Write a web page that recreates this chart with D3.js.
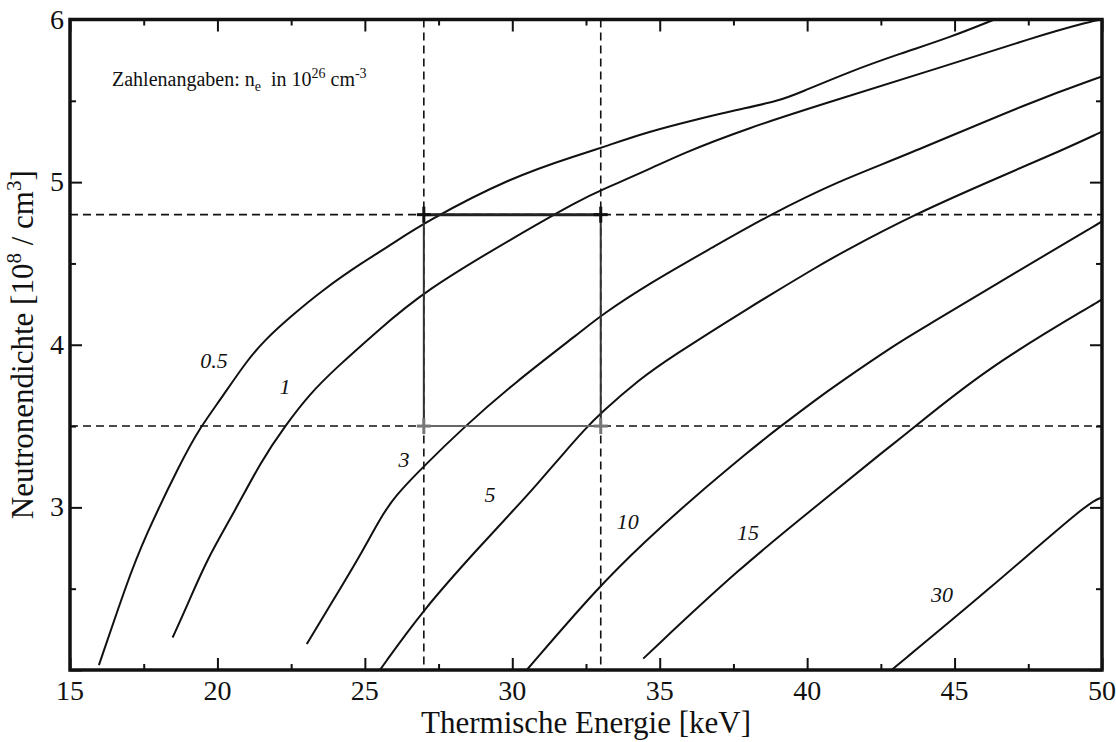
<!DOCTYPE html>
<html>
<head>
<meta charset="utf-8">
<script src="https://cdn.jsdelivr.net/npm/d3@7"></script>
<style>
body { margin: 0; background: #fff; }
svg text { font-family: "Liberation Serif", "Times New Roman", serif; fill: #111; }
</style>
</head>
<body>
<svg id="chart" width="1116" height="742"></svg>
<script>
// axis ticks
var xMajor = [15, 20, 25, 30, 35, 40, 45, 50],
    xMinor = [17.5, 22.5, 27.5, 32.5, 37.5, 42.5, 47.5],
    yMajor = [2, 3, 4, 5, 6],
    yMinor = [2.5, 3.5, 4.5, 5.5],
    yLabels = [3, 4, 5, 6];

// curves, n_e in 10^26 cm^-3 : [keV, 10^8/cm^3]
var curve05 = [[15.98, 2.03], [16.92, 2.53], [17.49, 2.80], [18.79, 3.29], [19.41, 3.49], [20.09, 3.66],
    [20.99, 3.90], [21.61, 4.03], [22.46, 4.17], [23.59, 4.34], [24.95, 4.51], [25.85, 4.61], [27.0, 4.75],
    [29.95, 5.03], [32.29, 5.17], [33.0, 5.21], [34.6, 5.31], [36.36, 5.39], [37.5, 5.44], [39.07, 5.50],
    [39.75, 5.55], [41.45, 5.68], [43.15, 5.79], [44.84, 5.89], [46.35, 6.0]];
var curve1 = [[18.48, 2.20], [18.96, 2.39], [19.64, 2.68], [20.54, 2.96], [21.5, 3.29], [22.29, 3.50],
    [23.14, 3.70], [24.04, 3.86], [25.4, 4.08], [27.0, 4.33], [30.15, 4.67], [32.29, 4.89], [33.0, 4.95],
    [34.67, 5.08], [35.68, 5.17], [37.94, 5.33], [40.88, 5.50], [44.27, 5.69], [47.67, 5.89], [49.64, 5.99], [50, 6.0]];
var curve3 = [[23.03, 2.16], [23.93, 2.43], [24.83, 2.70], [25.51, 2.93], [26.02, 3.07], [26.98, 3.25],
    [28.34, 3.49], [30.03, 3.76], [32.4, 4.09], [33.0, 4.18], [34.67, 4.38], [36.81, 4.60], [38.74, 4.80],
    [41.11, 5.01], [43.15, 5.15], [47.67, 5.50], [50, 5.65]];
var curve5 = [[25.51, 2.0], [26.97, 2.37], [28.9, 2.76], [30.03, 2.98], [30.83, 3.14], [31.73, 3.33],
    [32.46, 3.48], [33.0, 3.58], [34.33, 3.79], [35.35, 3.92], [37.95, 4.22], [40.43, 4.49], [41.11, 4.56],
    [43.6, 4.80], [46.76, 5.05], [48.57, 5.19], [50.0, 5.31]];
var curve10 = [[30.49, 2.0], [32.91, 2.51], [34.56, 2.80], [36.02, 3.04], [38.06, 3.35], [38.96, 3.48],
    [40.43, 3.68], [40.88, 3.74], [43.15, 4.02], [43.82, 4.09], [47.21, 4.46], [49.93, 4.75], [50, 4.76]];
var curve15 = [[34.44, 2.07], [37.72, 2.63], [40.54, 3.04], [42.69, 3.36], [43.15, 3.42], [46.09, 3.86],
    [49.93, 4.27], [50, 4.28]];
var curve30 = [[42.86, 2.0], [46.2, 2.50], [49.59, 3.04], [50, 3.06]];

var curveNames = ['0.5', '1', '3', '5', '10', '15', '30'];
// where each number sits, in data units
var labelPos = [[19.88, 3.86], [22.29, 3.70], [26.33, 3.25], [29.24, 3.03], [33.92, 2.87], [37.99, 2.80], [44.57, 2.42]];

// the marked working point
var boxX = [27, 33],
    boxY = [3.5, 4.8];

(function()
{
    var svg = d3.select('#chart'),
        left = 70, right = 1102, top = 19.5, bottom = 670;

    var x = d3.scaleLinear().domain([15, 50]).range([left, right]),
        y = d3.scaleLinear().domain([2, 6]).range([bottom, top]);

    svg.append('defs').append('clipPath').attr('id', 'plotClip')
        .append('rect').attr('x', left).attr('y', top)
        .attr('width', right - left).attr('height', bottom - top);

    // dashed guides
    var guides = svg.append('g').attr('stroke', '#111').attr('stroke-width', 1.6)
        .attr('stroke-dasharray', '8,5').attr('fill', 'none');
    boxX.forEach(function(v)
    {
        guides.append('line').attr('x1', x(v)).attr('x2', x(v)).attr('y1', top).attr('y2', bottom);
    });
    boxY.forEach(function(v)
    {
        guides.append('line').attr('x1', left).attr('x2', right).attr('y1', y(v)).attr('y2', y(v));
    });

    // curves
    var line = d3.line().x(function(d) { return x(d[0]); }).y(function(d) { return y(d[1]); })
        .curve(d3.curveBasis);
    var all = [curve05, curve1, curve3, curve5, curve10, curve15, curve30];

    svg.append('g').attr('clip-path', 'url(#plotClip)').selectAll('path').data(all).enter()
        .append('path').attr('d', line).attr('fill', 'none').attr('stroke', '#111').attr('stroke-width', 2);

    svg.append('g').selectAll('text').data(curveNames).enter().append('text')
        .attr('x', function(d, i) { return x(labelPos[i][0]); })
        .attr('y', function(d, i) { return y(labelPos[i][1]); })
        .attr('text-anchor', 'middle').attr('font-size', 22).attr('font-style', 'italic')
        .text(function(d) { return d; });

    // working-point box
    var box = svg.append('g').attr('fill', 'none');
    box.append('line').attr('x1', x(boxX[0])).attr('x2', x(boxX[1])).attr('y1', y(boxY[1])).attr('y2', y(boxY[1]))
        .attr('stroke', '#222').attr('stroke-width', 3);
    box.append('line').attr('x1', x(boxX[0])).attr('x2', x(boxX[1])).attr('y1', y(boxY[0])).attr('y2', y(boxY[0]))
        .attr('stroke', '#666').attr('stroke-width', 2);
    boxX.forEach(function(v)
    {
        box.append('line').attr('x1', x(v)).attr('x2', x(v)).attr('y1', y(boxY[1])).attr('y2', y(boxY[0]))
            .attr('stroke', '#333').attr('stroke-width', 2);
    });

    var corners = [];
    boxX.forEach(function(a) { boxY.forEach(function(b) { corners.push([a, b]); }); });
    var cross = box.selectAll('g.cross').data(corners).enter().append('g')
        .attr('transform', function(d) { return 'translate(' + x(d[0]) + ',' + y(d[1]) + ')'; })
        .attr('stroke', function(d) { return d[1] === boxY[1] ? '#111' : '#777'; })
        .attr('stroke-width', 3);
    cross.append('line').attr('x1', -7).attr('x2', 7);
    cross.append('line').attr('y1', -8).attr('y2', 8);

    // ticks on all four sides, pointing inwards
    var drawTicks = function(axis, values, size, tx)
    {
        var g = svg.append('g').attr('transform', tx).call(axis.tickValues(values).tickSize(-size).tickFormat(''));
        g.select('.domain').remove();
        g.selectAll('.tick line').attr('stroke', '#111').attr('stroke-width', 2);
        return g;
    };
    drawTicks(d3.axisBottom(x), xMajor, 12, 'translate(0,' + bottom + ')');
    drawTicks(d3.axisBottom(x), xMinor, 6, 'translate(0,' + bottom + ')');
    drawTicks(d3.axisTop(x), xMajor, 12, 'translate(0,' + top + ')');
    drawTicks(d3.axisTop(x), xMinor, 6, 'translate(0,' + top + ')');
    drawTicks(d3.axisLeft(y), yMajor, 12, 'translate(' + left + ',0)');
    drawTicks(d3.axisLeft(y), yMinor, 6, 'translate(' + left + ',0)');
    drawTicks(d3.axisRight(y), yMajor, 12, 'translate(' + right + ',0)');
    drawTicks(d3.axisRight(y), yMinor, 6, 'translate(' + right + ',0)');

    // frame
    svg.append('rect').attr('x', left).attr('y', top).attr('width', right - left).attr('height', bottom - top)
        .attr('fill', 'none').attr('stroke', '#111').attr('stroke-width', 3.5);

    // tick labels
    svg.append('g').selectAll('text').data(xMajor).enter().append('text')
        .attr('x', function(d) { return x(d); }).attr('y', bottom + 30)
        .attr('text-anchor', 'middle').attr('font-size', 28).text(function(d) { return d; });
    svg.append('g').selectAll('text').data(yLabels).enter().append('text')
        .attr('x', left - 6).attr('y', function(d) { return y(d) + 9; })
        .attr('text-anchor', 'end').attr('font-size', 28).text(function(d) { return d; });

    // axis titles
    svg.append('text').attr('x', (left + right) / 2).attr('y', 733).attr('text-anchor', 'middle')
        .attr('font-size', 31).text('Thermische Energie [keV]');

    var yt = svg.append('text').attr('transform', 'translate(33,' + y(4) + ') rotate(-90)')
        .attr('text-anchor', 'middle').attr('font-size', 31);
    yt.append('tspan').text('Neutronendichte [10');
    yt.append('tspan').attr('dy', -12).attr('font-size', 21).text('8');
    yt.append('tspan').attr('dy', 12).text(' / cm');
    yt.append('tspan').attr('dy', -12).attr('font-size', 21).text('3');
    yt.append('tspan').attr('dy', 12).text(']');

    // note
    var note = svg.append('text').attr('x', 112).attr('y', 86).attr('font-size', 20).attr('xml:space', 'preserve');
    note.append('tspan').text('Zahlenangaben: n');
    note.append('tspan').attr('dy', 5).attr('font-size', 14).text('e');
    note.append('tspan').attr('dy', -5).text('  in 10');
    note.append('tspan').attr('dy', -8).attr('font-size', 14).text('26');
    note.append('tspan').attr('dy', 8).text(' cm');
    note.append('tspan').attr('dy', -8).attr('font-size', 14).text('-3');
})();
</script>
</body>
</html>
